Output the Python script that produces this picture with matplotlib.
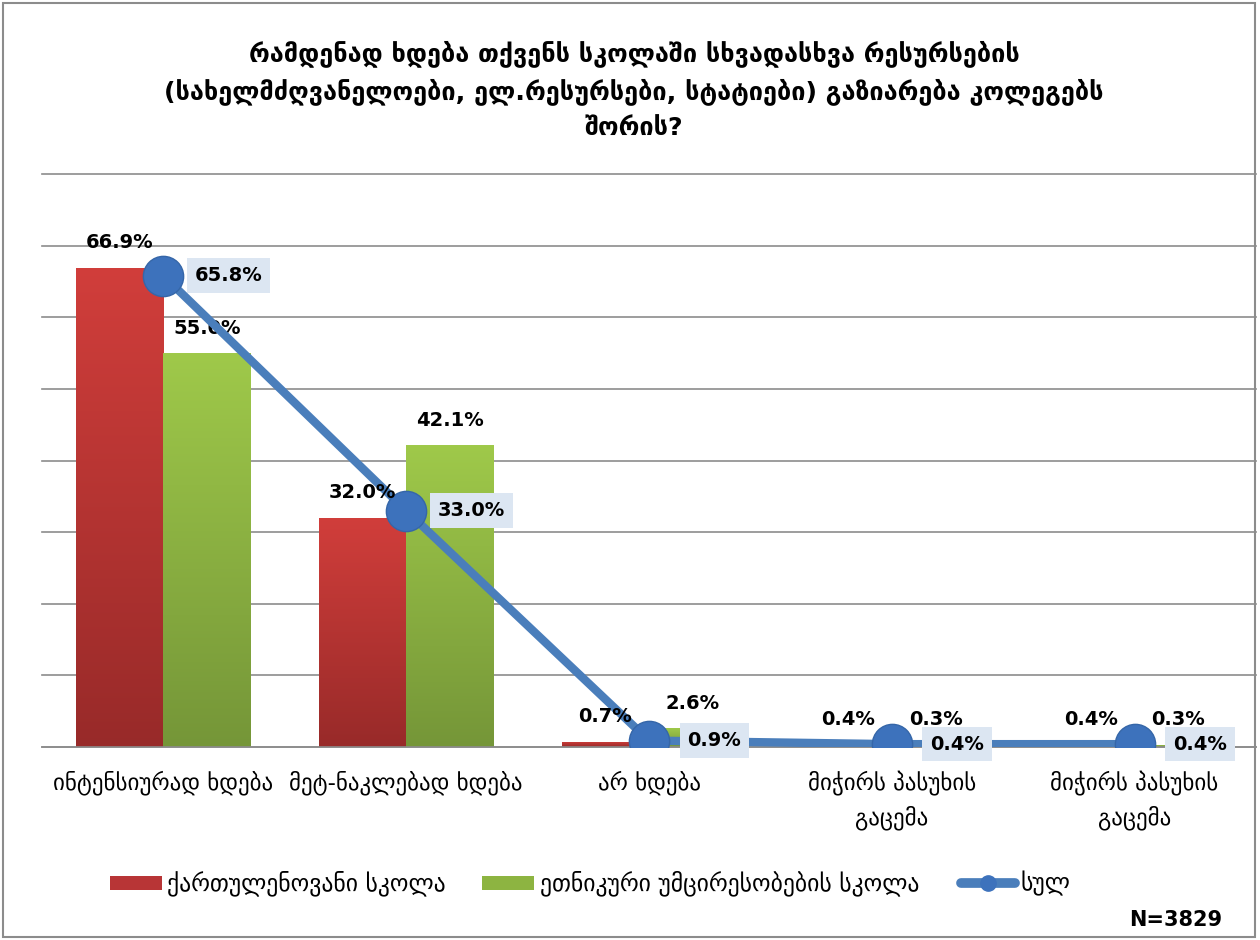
import numpy as np
import matplotlib
matplotlib.use("Agg")
import matplotlib.pyplot as plt
from matplotlib.colors import LinearSegmentedColormap
from matplotlib.patches import Rectangle
from matplotlib.lines import Line2D

plt.rcParams['font.family'] = ['DejaVu Sans']

title = "რამდენად ხდება თქვენს სკოლაში სხვადასხვა რესურსების\n(სახელმძღვანელოები, ელ.რესურსები, სტატიები) გაზიარება კოლეგებს\nშორის?"
categories = ["ინტენსიურად ხდება", "მეტ-ნაკლებად ხდება", "არ ხდება",
              "მიჭირს პასუხის\nგაცემა", "მიჭირს პასუხის\nგაცემა"]
georgian_school = [66.9, 32.0, 0.7, 0.4, 0.4]
minority_school = [55.0, 42.1, 2.6, 0.3, 0.3]
total = [65.8, 33.0, 0.9, 0.4, 0.4]
series_names = ["ქართულენოვანი სკოლა", "ეთნიკური უმცირესობების სკოლა", "სულ"]
note = "N=3829"

W, H = 1260, 940
fig = plt.figure(figsize=(12.6, 9.4), dpi=100)
ax = fig.add_axes([42/W, 1-747/H, (1256-42)/W, (747-174)/H])

x = np.arange(len(categories))
w = 0.36
red_bars = ax.bar(x - w/2, georgian_school, w, color="#C0393A", zorder=2)
green_bars = ax.bar(x + w/2, minority_school, w, color="#8DB441", zorder=2)

def grad(bars, top, bottom):
    cmap = LinearSegmentedColormap.from_list("g", [bottom, top])
    for b in bars:
        x0, y0 = b.get_x(), b.get_y()
        bw, bh = b.get_width(), b.get_height()
        im = ax.imshow(np.linspace(0, 1, 256).reshape(-1, 1), cmap=cmap, origin="lower",
                       extent=[x0, x0 + bw, y0, y0 + bh], aspect="auto", zorder=2.1)
        im.set_clip_path(b)

grad(red_bars, "#D13E3B", "#982A29")
grad(green_bars, "#9FC94A", "#759638")

ax.plot(x, total, color="#4A7EBB", lw=6, marker="o", markersize=29,
        markerfacecolor="#3D72BC", markeredgecolor="#3566A8", markeredgewidth=1, zorder=4,
        solid_capstyle="round")

for xi, v in zip(x, georgian_school):
    ax.annotate(f"{v:.1f}%", (xi - w/2, v), xytext=(0, 18), textcoords="offset points",
                ha="center", va="center", fontsize=14, fontweight="bold", zorder=5)
for xi, v in zip(x, minority_school):
    ax.annotate(f"{v:.1f}%", (xi + w/2, v), xytext=(0, 18), textcoords="offset points",
                ha="center", va="center", fontsize=14, fontweight="bold", zorder=3)
for xi, v in zip(x, total):
    ax.annotate(f"{v:.1f}%", (xi, v), xytext=(47, 0), textcoords="offset points",
                ha="center", va="center", fontsize=14, fontweight="bold", zorder=6,
                bbox=dict(boxstyle="square,pad=0.4", fc="#DCE6F2", ec="none"))

ax.set_xlim(-0.5, len(categories) - 0.5)
ax.set_ylim(0, 80)
ax.set_yticks(np.arange(0, 81, 10))
ax.set_yticklabels([])
ax.tick_params(axis="y", length=0)
ax.tick_params(axis="x", length=0, pad=17)
ax.set_xticks(x)
ax.set_xticklabels(categories, fontsize=16.5, linespacing=1.5)
ax.grid(axis="y", color="#8C8C8C", lw=1.2, zorder=0)
ax.set_axisbelow(True)
for gl in ax.get_ygridlines():
    gl.set_clip_on(False)
for s in ["top", "right", "left"]:
    ax.spines[s].set_visible(False)
ax.spines["bottom"].set_color("#8C8C8C")
ax.spines["bottom"].set_linewidth(1.2)

fig.text(634/W, 1 - 90/H, title, ha="center", va="center", fontsize=18.2,
         fontweight="bold", linespacing=1.55)

# legend (manual layout)
ly = 1 - 883/H
fig.patches.append(Rectangle((110/W, 1 - 890/H), 52/W, 14/H, transform=fig.transFigure,
                             fc="#B83536", ec="none"))
fig.text(167/W, ly, series_names[0], ha="left", va="center", fontsize=17)
fig.patches.append(Rectangle((482/W, 1 - 890/H), 52/W, 14/H, transform=fig.transFigure,
                             fc="#8DB441", ec="none"))
fig.text(540/W, ly, series_names[1], ha="left", va="center", fontsize=17)
fig.lines.append(Line2D([961/W, 1015/W], [ly, ly], transform=fig.transFigure,
                        color="#4A7EBB", lw=7, solid_capstyle="round"))
fig.lines.append(Line2D([988/W], [ly], transform=fig.transFigure, marker="o",
                        markersize=11, color="#3D72BC", lw=0))
fig.text(1020/W, ly, series_names[2], ha="left", va="center", fontsize=17)

fig.text(1222/W, 1 - 920/H, note, ha="right", va="center", fontsize=15, fontweight="bold")

fig.patches.append(Rectangle((3/W, 3/H), 1252/W, 934/H, transform=fig.transFigure,
                             fill=False, ec="#8C8C8C", lw=1.5))

fig.savefig("out.png", dpi=100)
